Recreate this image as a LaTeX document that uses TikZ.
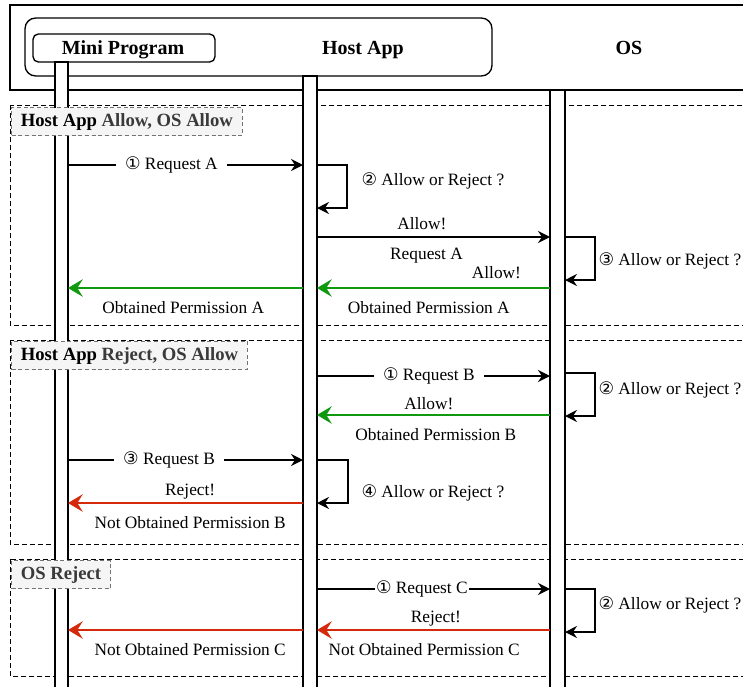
\documentclass[tikz,border=0pt]{standalone}
\usepackage{fontspec}
\setmainfont{Liberation Serif}
\newfontfamily\circfont{DejaVu Sans}
\usetikzlibrary{arrows.meta}
\usetikzlibrary{positioning}
\newcommand{\cnum}[1]{{\circfont\fontsize{13}{15}\selectfont #1}}

\tikzset{
  msg/.style={line width=0.9pt, -{Stealth[length=9pt,width=9pt,inset=3pt]}},
  okmsg/.style={draw=okgreen, line width=2.2pt, -{Stealth[length=11pt,width=13pt,inset=4pt]}},
  nomsg/.style={draw=nored, line width=2.2pt, -{Stealth[length=11pt,width=13pt,inset=4pt]}},
  lbl/.style={font=\fontsize{13}{15}\selectfont, inner sep=1pt},
  onlbl/.style={lbl, fill=white, inner xsep=7pt},
  lifeline/.style={draw, fill=white, line width=0.9pt},
  frame/.style={draw, line width=0.75pt, dash pattern=on 3.5pt off 2.5pt},
  tag/.style={draw=black!55, line width=0.75pt, dash pattern=on 3pt off 2pt, fill=tagfill, text=tagtext,
    font=\fontsize{14}{16}\selectfont\bfseries, anchor=north west, inner xsep=7pt,
    text height=10pt, text depth=3pt, minimum height=21pt},
  hdr/.style={font=\fontsize{15}{17}\selectfont\bfseries, anchor=base}
}

\begin{document}
\begin{tikzpicture}[x=0.75pt,y=-0.75pt]
      \definecolor{okgreen}{HTML}{0F990F}
      \definecolor{nored}{HTML}{D42A0B}
      \definecolor{tagfill}{HTML}{F5F5F5}
      \definecolor{tagtext}{HTML}{3A3A3A}
      \clip (0,0) rectangle (743,686);
      % header
      \draw[line width=1pt] (10,5) rectangle (760,90);
      \draw[line width=1pt, rounded corners=8pt] (25,18) rectangle (492,76);
      \node[draw, line width=1pt, rounded corners=4pt, minimum width=136.5pt, minimum height=21pt] (minibox) at (124,48) {};
      \node[hdr] (mini) at (123,54) {Mini Program};
      \node[hdr] (host) at (363,54) {Host App};
      \node[hdr] (os) at (629,54) {OS};
      % frames
      \draw[frame] (10,105) rectangle (760,325);
      \draw[frame] (10,340) rectangle (760,544);
      \draw[frame] (10,559) rectangle (760,676);
      % lifelines
      \draw[lifeline] (55,62) rectangle (68,690);
      \draw[lifeline] (303,76) rectangle (317,690);
      \draw[lifeline] (550,90) rectangle (565,690);
      \coordinate (mini r) at (68,0);
      \coordinate (host l) at (303,0);
      \coordinate (host r) at (317,0);
      \coordinate (os l) at (550,0);
      \coordinate (os r) at (565,0);
      % tags
      \node[tag] (tagA) at (11,107) {{\color{black}Host App} Allow, OS Allow};
      \node[tag] (tagB) at (11,341) {{\color{black}Host App} Reject, OS Allow};
      \node[tag] (tagC) at (11,560) {OS Reject};

      % Host App allow, OS allow
      \draw[msg] (mini r |- 0,165) -- node[onlbl, pos=0.44] (reqA) {\cnum{①} Request A} (host l |- 0,165);
      \draw[msg] (host r |- 0,165) -- ++(30,0) |- (host r |- 0,208);
      \node[lbl, right] (askA1) at (360,181) {\cnum{②} Allow or Reject ?};
      \draw[msg] (host r |- 0,237) -- node[lbl, above=4pt, pos=0.45] (allowA1) {Allow!}
        node[lbl, below=6.5pt, pos=0.47] (reqA2) {Request A} (os l |- 0,237);
      \draw[msg] (os r |- 0,237) -- ++(30,0) |- (os r |- 0,280);
      \node[lbl, right] (askA2) at (597,261) {\cnum{③} Allow or Reject ?};
      \draw[okmsg] (os l |- 0,288) -- node[lbl, above=5pt, pos=0.23] (allowA2) {Allow!}
        node[lbl, below=8pt, pos=0.52] (gotA1) {Obtained Permission A} (host r |- 0,288);
      \draw[okmsg] (host l |- 0,288) -- node[lbl, below=8pt, pos=0.51] (gotA2) {Obtained Permission A} (mini r |- 0,288);

      % Host App reject, OS allow
      \draw[msg] (host r |- 0,376) -- node[onlbl, pos=0.48] (reqB1) {\cnum{①} Request B} (os l |- 0,376);
      \draw[msg] (os r |- 0,373) -- ++(30,0) |- (os r |- 0,416);
      \node[lbl, right] (askB1) at (597,390) {\cnum{②} Allow or Reject ?};
      \draw[okmsg] (os l |- 0,415) -- node[lbl, above=2pt, pos=0.52] (allowB) {Allow!}
        node[lbl, below=8pt, pos=0.49] (gotB) {Obtained Permission B} (host r |- 0,415);
      \draw[msg] (mini r |- 0,460) -- node[onlbl, pos=0.43] (reqB2) {\cnum{③} Request B} (host l |- 0,460);
      \draw[msg] (host r |- 0,460) -- ++(31,0) |- (host r |- 0,503);
      \node[lbl, right] (askB2) at (360,493) {\cnum{④} Allow or Reject ?};
      \draw[nomsg] (host l |- 0,503) -- node[lbl, above=1pt, pos=0.48] (rejB) {Reject!}
        node[lbl, below=8pt, pos=0.48] (notB) {Not Obtained Permission B} (mini r |- 0,503);

      % OS reject
      \draw[msg] (host r |- 0,589) -- node[onlbl, inner xsep=1pt, pos=0.45] (reqC) {\cnum{①} Request C} (os l |- 0,589);
      \draw[msg] (os r |- 0,589) -- ++(30,0) |- (os r |- 0,632);
      \node[lbl, right] (askC) at (597,605) {\cnum{②} Allow or Reject ?};
      \draw[nomsg] (os l |- 0,630) -- node[lbl, above=1pt, pos=0.49] (rejC) {Reject!}
        node[lbl, below=8pt, pos=0.54] (notC1) {Not Obtained Permission C} (host r |- 0,630);
      \draw[nomsg] (host l |- 0,630) -- node[lbl, below=8pt, pos=0.48] (notC2) {Not Obtained Permission C} (mini r |- 0,630);
\end{tikzpicture}
\end{document}
